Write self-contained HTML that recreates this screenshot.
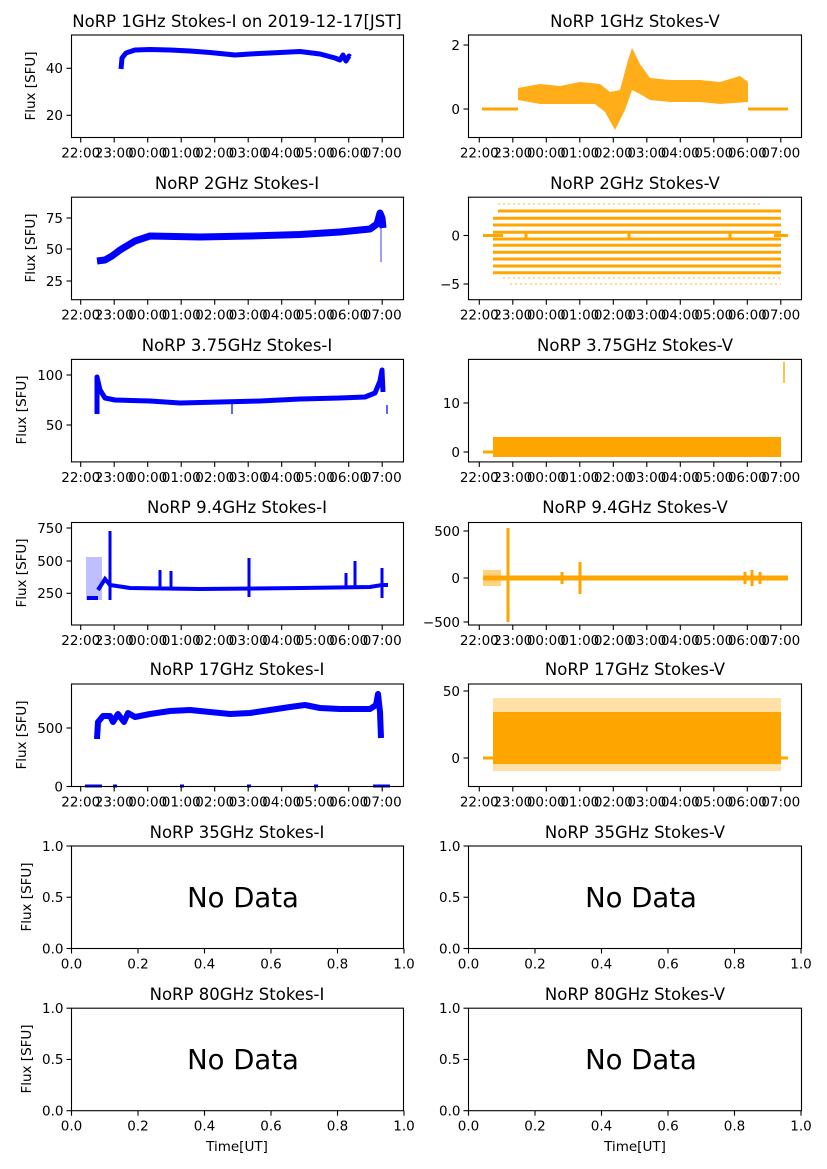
<!DOCTYPE html>
<html><head><meta charset="utf-8"><style>
html,body{margin:0;padding:0;background:#fff;}
svg{display:block;font-family:"DejaVu Sans","Liberation Sans",sans-serif;}
.t{font-size:16.5px;text-anchor:middle;}
.k{font-size:13.5px;}
.ky{font-size:13.5px;text-anchor:end;}
.kx{font-size:13.5px;text-anchor:middle;}
.ax{fill:none;stroke:#000;stroke-width:1.1;}
.tk{stroke:#000;stroke-width:1.1;}
.nd{font-size:27.5px;text-anchor:middle;}
</style></head><body>
<svg width="827" height="1169" viewBox="0 0 827 1169" xmlns="http://www.w3.org/2000/svg">
<defs>
<g id="xl">
<line class="tk" x1="0" y1="0" x2="0" y2="5"/><line class="tk" x1="33.5" y1="0" x2="33.5" y2="5"/><line class="tk" x1="67" y1="0" x2="67" y2="5"/><line class="tk" x1="100.5" y1="0" x2="100.5" y2="5"/><line class="tk" x1="134" y1="0" x2="134" y2="5"/><line class="tk" x1="167.5" y1="0" x2="167.5" y2="5"/><line class="tk" x1="201" y1="0" x2="201" y2="5"/><line class="tk" x1="234.5" y1="0" x2="234.5" y2="5"/><line class="tk" x1="268" y1="0" x2="268" y2="5"/><line class="tk" x1="301.5" y1="0" x2="301.5" y2="5"/>
<text class="kx" x="0" y="20">22:00</text><text class="kx" x="33.5" y="20">23:00</text><text class="kx" x="67" y="20">00:00</text><text class="kx" x="100.5" y="20">01:00</text><text class="kx" x="134" y="20">02:00</text><text class="kx" x="167.5" y="20">03:00</text><text class="kx" x="201" y="20">04:00</text><text class="kx" x="234.5" y="20">05:00</text><text class="kx" x="268" y="20">06:00</text><text class="kx" x="301.5" y="20">07:00</text>
</g>
<g id="xn">
<line class="tk" x1="0" y1="0" x2="0" y2="5"/><line class="tk" x1="66.5" y1="0" x2="66.5" y2="5"/><line class="tk" x1="133" y1="0" x2="133" y2="5"/><line class="tk" x1="199.5" y1="0" x2="199.5" y2="5"/><line class="tk" x1="266" y1="0" x2="266" y2="5"/><line class="tk" x1="332.5" y1="0" x2="332.5" y2="5"/>
<text class="kx" x="0" y="20">0.0</text><text class="kx" x="66.5" y="20">0.2</text><text class="kx" x="133" y="20">0.4</text><text class="kx" x="199.5" y="20">0.6</text><text class="kx" x="266" y="20">0.8</text><text class="kx" x="332.5" y="20">1.0</text>
</g>
<g id="yn">
<line class="tk" x1="0" y1="0" x2="-5" y2="0"/><line class="tk" x1="0" y1="51.25" x2="-5" y2="51.25"/><line class="tk" x1="0" y1="102.5" x2="-5" y2="102.5"/>
<text class="ky" x="-8" y="5">1.0</text><text class="ky" x="-8" y="56">0.5</text><text class="ky" x="-8" y="107.5">0.0</text>
</g>
</defs>

<!-- Titles -->
<text class="t" x="237" y="27">NoRP 1GHz Stokes-I on 2019-12-17[JST]</text>
<text class="t" x="635" y="27">NoRP 1GHz Stokes-V</text>
<text class="t" x="237" y="189">NoRP 2GHz Stokes-I</text>
<text class="t" x="635" y="189">NoRP 2GHz Stokes-V</text>
<text class="t" x="237" y="351">NoRP 3.75GHz Stokes-I</text>
<text class="t" x="635" y="351">NoRP 3.75GHz Stokes-V</text>
<text class="t" x="237" y="513">NoRP 9.4GHz Stokes-I</text>
<text class="t" x="635" y="513">NoRP 9.4GHz Stokes-V</text>
<text class="t" x="237" y="675">NoRP 17GHz Stokes-I</text>
<text class="t" x="635" y="675">NoRP 17GHz Stokes-V</text>
<text class="t" x="237" y="838">NoRP 35GHz Stokes-I</text>
<text class="t" x="635" y="838">NoRP 35GHz Stokes-V</text>
<text class="t" x="237" y="1000">NoRP 80GHz Stokes-I</text>
<text class="t" x="635" y="1000">NoRP 80GHz Stokes-V</text>

<!-- Y labels -->
<text class="k" transform="translate(35,86) rotate(-90)" text-anchor="middle">Flux [SFU]</text>
<text class="k" transform="translate(35,248) rotate(-90)" text-anchor="middle">Flux [SFU]</text>
<text class="k" transform="translate(26,410) rotate(-90)" text-anchor="middle">Flux [SFU]</text>
<text class="k" transform="translate(26,573) rotate(-90)" text-anchor="middle">Flux [SFU]</text>
<text class="k" transform="translate(26,735) rotate(-90)" text-anchor="middle">Flux [SFU]</text>
<text class="k" transform="translate(31,897) rotate(-90)" text-anchor="middle">Flux [SFU]</text>
<text class="k" transform="translate(31,1059) rotate(-90)" text-anchor="middle">Flux [SFU]</text>
<text class="k" x="237" y="1151" text-anchor="middle">Time[UT]</text>
<text class="k" x="635" y="1151" text-anchor="middle">Time[UT]</text>

<!-- ===== Row 1 ===== -->
<path d="M121,69 L122,58 L126,53 L135,50 L150,49.5 L170,50 L190,51 L210,52.5 L225,54 L235,55 L250,54 L270,53 L290,52 L300,51.5 L320,54 L335,58 L340,60 L343,55 L346,61 L349,56 L350,57" fill="none" stroke="#0000ff" stroke-width="5" stroke-linejoin="round"/>
<rect class="ax" x="71.5" y="35" width="332" height="102.5"/>
<line class="tk" x1="71.5" y1="68.3" x2="66.5" y2="68.3"/><text class="ky" x="63" y="73">40</text>
<line class="tk" x1="71.5" y1="115.3" x2="66.5" y2="115.3"/><text class="ky" x="63" y="120">20</text>
<use href="#xl" x="80.7" y="137.5"/>

<path d="M482,109 H518 M748,109 H788" stroke="#ffa500" stroke-width="3"/>
<polygon points="518,88 540,84 560,86 580,82 600,84 610,92 620,90 628,60 632,48 640,64 650,78 670,80 700,80 720,82 740,76 748,82 748,102 720,104 700,102 670,102 650,100 640,94 632,90 625,110 615,130 605,112 595,104 580,104 560,104 540,104 518,100" fill="#ffa500" opacity="0.9"/>
<rect class="ax" x="468.5" y="35" width="333" height="102.5"/>
<line class="tk" x1="468.5" y1="45" x2="463.5" y2="45"/><text class="ky" x="460" y="50">2</text>
<line class="tk" x1="468.5" y1="109" x2="463.5" y2="109"/><text class="ky" x="460" y="114">0</text>
<use href="#xl" x="479.3" y="137.5"/>

<!-- ===== Row 2 ===== -->
<path d="M97,261 L105,260 L112,256 L120,250 L135,241 L150,236 L200,237 L250,236 L300,234.5 L340,232 L370,229 L377,224 L380,213 L382,218 L383,228" fill="none" stroke="#0000ff" stroke-width="7" stroke-linejoin="round"/>
<line x1="381" y1="228" x2="381" y2="262" stroke="#0000ff" stroke-width="1.5" opacity="0.5"/>
<rect class="ax" x="71.5" y="197.2" width="332" height="102.5"/>
<line class="tk" x1="71.5" y1="218" x2="66.5" y2="218"/><text class="ky" x="63" y="223">75</text>
<line class="tk" x1="71.5" y1="249" x2="66.5" y2="249"/><text class="ky" x="63" y="254">50</text>
<line class="tk" x1="71.5" y1="281" x2="66.5" y2="281"/><text class="ky" x="63" y="286">25</text>
<use href="#xl" x="80.7" y="299.7"/>

<g stroke="#ffa500">
<path d="M498,211 H781 M493,218.3 H781 M493,225 H781 M493,232.3 H781 M493,239 H781 M493,245.3 H781 M493,252.3 H781 M493,259 H781 M493,266 H781 M493,272.7 H781" stroke-width="3"/>
<path d="M483,235.5 H503 M774,235.5 H788 M526,233 V238 M629,233 V238 M730,233 V238" stroke-width="3"/>
<path d="M498,204 H760 M503,278 H781 M510,284 H781" stroke-width="2" stroke-dasharray="2 3" opacity="0.4"/>
</g>
<rect class="ax" x="468.5" y="197.2" width="333" height="102.5"/>
<line class="tk" x1="468.5" y1="235.5" x2="463.5" y2="235.5"/><text class="ky" x="460" y="240.5">0</text>
<line class="tk" x1="468.5" y1="284" x2="463.5" y2="284"/><text class="ky" x="460" y="289">−5</text>
<use href="#xl" x="479.3" y="299.7"/>

<!-- ===== Row 3 ===== -->
<path d="M97,414 L97,377 L100,390 L105,398 L115,400 L150,401 L180,403 L220,402 L260,401 L300,399 L340,398 L365,397 L375,393 L380,381 L382,370 L383,392" fill="none" stroke="#0000ff" stroke-width="5" stroke-linejoin="round"/>
<path d="M232,400 V414 M387,405 V414" stroke="#0000ff" stroke-width="2" opacity="0.6"/>
<rect class="ax" x="71.5" y="359.4" width="332" height="102.5"/>
<line class="tk" x1="71.5" y1="375" x2="66.5" y2="375"/><text class="ky" x="63" y="380">100</text>
<line class="tk" x1="71.5" y1="425" x2="66.5" y2="425"/><text class="ky" x="63" y="430">50</text>
<use href="#xl" x="80.7" y="461.9"/>

<rect x="493" y="437" width="288" height="20" fill="#ffa500"/>
<path d="M483,452 H495" stroke="#ffa500" stroke-width="3"/>
<path d="M784,362 V383" stroke="#ffa500" stroke-width="2" opacity="0.7"/>
<rect class="ax" x="468.5" y="359.4" width="333" height="102.5"/>
<line class="tk" x1="468.5" y1="403" x2="463.5" y2="403"/><text class="ky" x="460" y="408">10</text>
<line class="tk" x1="468.5" y1="452" x2="463.5" y2="452"/><text class="ky" x="460" y="457">0</text>
<use href="#xl" x="479.3" y="461.9"/>

<!-- ===== Row 4 ===== -->
<rect x="86" y="557" width="16" height="43" fill="#0000ff" opacity="0.25"/>
<path d="M87,598 H98 M98,590 L105,579 L110,585 L130,588 L200,589 L300,588 L370,587 L382,585 H388" fill="none" stroke="#0000ff" stroke-width="4"/>
<path d="M110,531 V600 M160,570 V589 M171,571 V589 M249,558 V597 M346,573 V589 M355,561 V589 M382,568 V598" stroke="#0000ff" stroke-width="3"/>
<rect class="ax" x="71.5" y="522.5" width="332" height="102.5"/>
<line class="tk" x1="71.5" y1="528" x2="66.5" y2="528"/><text class="ky" x="63" y="533">750</text>
<line class="tk" x1="71.5" y1="561" x2="66.5" y2="561"/><text class="ky" x="63" y="566">500</text>
<line class="tk" x1="71.5" y1="593.3" x2="66.5" y2="593.3"/><text class="ky" x="63" y="598">250</text>
<use href="#xl" x="80.7" y="625"/>

<path d="M483,578 H788" stroke="#ffa500" stroke-width="5"/>
<rect x="483" y="570" width="18" height="16" fill="#ffa500" opacity="0.5"/>
<path d="M508,528 V622 M580,562 V594 M562,572 V584 M745,572 V584 M752,570 V586 M760,572 V584" stroke="#ffa500" stroke-width="3"/>
<rect class="ax" x="468.5" y="522.5" width="333" height="102.5"/>
<line class="tk" x1="468.5" y1="531" x2="463.5" y2="531"/><text class="ky" x="460" y="536">500</text>
<line class="tk" x1="468.5" y1="578" x2="463.5" y2="578"/><text class="ky" x="460" y="583">0</text>
<line class="tk" x1="468.5" y1="622" x2="463.5" y2="622"/><text class="ky" x="460" y="627">−500</text>
<use href="#xl" x="479.3" y="625"/>

<!-- ===== Row 5 ===== -->
<path d="M97,739 L98,722 L103,716 L110,716 L113,722 L118,714 L124,722 L128,713 L135,717 L150,714 L170,711 L190,710 L210,712 L230,714 L250,713 L270,710 L290,707 L305,705 L320,708 L340,709 L370,709 L376,705 L378,694 L380,712 L381,738" fill="none" stroke="#0000ff" stroke-width="6" stroke-linejoin="round"/>
<path d="M85,786 H102 M113,786 H117 M180,786 H184 M247,786 H251 M314,786 H318 M373,786 H390" stroke="#0000ff" stroke-width="3"/>
<rect class="ax" x="71.5" y="684" width="332" height="102.5"/>
<line class="tk" x1="71.5" y1="728" x2="66.5" y2="728"/><text class="ky" x="63" y="733">500</text>
<line class="tk" x1="71.5" y1="786.5" x2="66.5" y2="786.5"/><text class="ky" x="63" y="791.5">0</text>
<use href="#xl" x="80.7" y="786.5"/>

<rect x="493" y="698" width="288" height="73" fill="#ffa500" opacity="0.35"/>
<rect x="493" y="712" width="288" height="52" fill="#ffa500"/>
<path d="M483,758 H495 M780,758 H788" stroke="#ffa500" stroke-width="3"/>
<rect class="ax" x="468.5" y="684" width="333" height="102.5"/>
<line class="tk" x1="468.5" y1="691" x2="463.5" y2="691"/><text class="ky" x="460" y="696">50</text>
<line class="tk" x1="468.5" y1="758" x2="463.5" y2="758"/><text class="ky" x="460" y="763">0</text>
<use href="#xl" x="479.3" y="786.5"/>

<!-- ===== Row 6 ===== -->
<rect class="ax" x="71.5" y="846" width="332" height="102.5"/>
<use href="#yn" x="71.5" y="846"/><use href="#xn" x="71.5" y="948.5"/>
<text class="nd" x="243" y="907">No Data</text>
<rect class="ax" x="468.5" y="846" width="333" height="102.5"/>
<use href="#yn" x="468.5" y="846"/><use href="#xn" x="468.5" y="948.5"/>
<text class="nd" x="641" y="907">No Data</text>

<!-- ===== Row 7 ===== -->
<rect class="ax" x="71.5" y="1008.2" width="332" height="102.5"/>
<use href="#yn" x="71.5" y="1008.2"/><use href="#xn" x="71.5" y="1110.7"/>
<text class="nd" x="243" y="1069">No Data</text>
<rect class="ax" x="468.5" y="1008.2" width="333" height="102.5"/>
<use href="#yn" x="468.5" y="1008.2"/><use href="#xn" x="468.5" y="1110.7"/>
<text class="nd" x="641" y="1069">No Data</text>
</svg>
</body></html>
